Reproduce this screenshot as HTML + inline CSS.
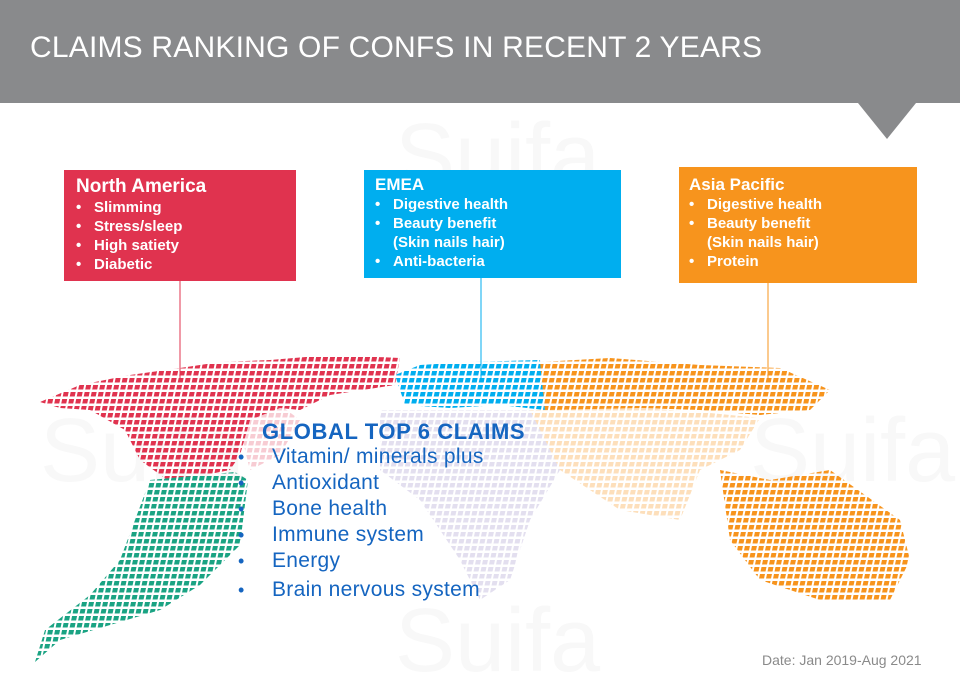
<!DOCTYPE html>
<html><head><meta charset="utf-8"><style>
body{margin:0;width:960px;height:678px;overflow:hidden;background:#fff;font-family:"Liberation Sans",sans-serif;position:relative}
.hdr{position:absolute;left:0;top:0;width:960px;height:103px;background:#898a8c}
.title{position:absolute;left:30px;top:31px;color:#fff;font-size:30px;letter-spacing:0.2px}
.box{position:absolute;color:#fff;font-weight:bold;box-sizing:border-box}
.box h3{margin:0;font-size:19px}
.box ul{margin:0;padding:0;list-style:none;font-size:15px;line-height:19px}
.box li{padding-left:18px;position:relative}
.box li:before{content:"•";position:absolute;left:0}
.wm{position:absolute;color:#f8f8f8;font-size:90px}
.g{position:absolute;color:#1565c0;font-size:21px;left:272px;letter-spacing:0.3px}
.b{position:absolute;color:#1565c0;font-size:18px;left:238px}
</style></head><body>
<div class="wm" style="left:395px;top:105px">Suifa</div>
<div class="wm" style="left:40px;top:400px">Suifa</div>
<div class="wm" style="left:750px;top:400px">Suifa</div>
<div class="wm" style="left:395px;top:590px">Suifa</div>
<div class="hdr"></div>
<svg style="position:absolute;left:0;top:0" width="960" height="678">
<polygon points="858,103 916,103 887,139" fill="#898a8c"/>
<defs>
<pattern id="p" width="7" height="7" patternUnits="userSpaceOnUse" patternTransform="skewX(-12)"><rect width="5" height="4.5" fill="#fff"/></pattern>
<mask id="m"><rect width="960" height="678" fill="url(#p)"/></mask>
</defs>
<line x1="180" y1="281" x2="180" y2="380" stroke="#e0334f"/>
<line x1="481" y1="278" x2="481" y2="378" stroke="#00aeef"/>
<line x1="768" y1="283" x2="768" y2="378" stroke="#f7941d"/>
<g mask="url(#m)">
<polygon points="40,402 80,385 130,375 180,368 220,362 270,360 330,355 400,358 395,385 330,395 300,410 280,408 250,420 240,455 230,470 170,482 140,460 125,430 90,410 60,408" fill="#e0334f"/>
<polygon points="150,480 235,472 248,480 240,545 200,585 160,610 110,625 60,640 35,662 45,630 90,595 120,560 135,520" fill="#1aa383"/>
<polygon points="395,375 420,365 470,362 540,360 545,410 500,405 450,408 405,405" fill="#00aeef"/>
<polygon points="540,362 610,358 700,365 780,368 830,390 810,410 760,415 700,410 640,408 545,410" fill="#f7941d"/>
<polygon points="530,410 640,408 700,412 760,418 740,450 700,470 680,520 620,510 560,470" fill="#f7941d" opacity="0.3"/>
<polygon points="720,470 770,480 830,470 900,520 910,560 890,600 820,600 760,580 730,540" fill="#f7941d"/>
<polygon points="380,410 530,410 560,470 530,520 510,580 480,600 460,560 420,500 380,470" fill="#b8b0d8" opacity="0.4"/>
<polygon points="235,410 280,405 300,420 280,455 250,470" fill="#e0334f" opacity="0.25"/>
</g>
</svg>
<div class="title">CLAIMS RANKING OF CONFS IN RECENT 2 YEARS</div>
<div class="box" style="left:64px;top:170px;width:232px;height:111px;padding:6px 0 0 12px;background:#e0334f">
<h3>North America</h3><ul><li>Slimming</li><li>Stress/sleep</li><li>High satiety</li><li>Diabetic</li></ul></div>
<div class="box" style="left:364px;top:170px;width:257px;height:108px;padding:5px 0 0 11px;background:#00aeef">
<h3 style="font-size:17px">EMEA</h3><ul><li>Digestive health</li><li>Beauty benefit<br>(Skin nails hair)</li><li>Anti-bacteria</li></ul></div>
<div class="box" style="left:679px;top:167px;width:238px;height:116px;padding:8px 0 0 10px;background:#f7941d">
<h3 style="font-size:17px">Asia Pacific</h3><ul><li>Digestive health</li><li>Beauty benefit<br>(Skin nails hair)</li><li>Protein</li></ul></div>
<div class="g" style="left:262px;top:419px;font-size:22px;font-weight:bold;letter-spacing:0.6px">GLOBAL TOP 6 CLAIMS</div>
<div class="b" style="top:447px">•</div><div class="g" style="top:445px">Vitamin/ minerals plus</div>
<div class="b" style="top:473px">•</div><div class="g" style="top:471px">Antioxidant</div>
<div class="b" style="top:499px">•</div><div class="g" style="top:497px">Bone health</div>
<div class="b" style="top:525px">•</div><div class="g" style="top:523px">Immune system</div>
<div class="b" style="top:551px">•</div><div class="g" style="top:549px">Energy</div>
<div class="b" style="top:580px">•</div><div class="g" style="top:578px">Brain nervous system</div>
<div style="position:absolute;left:762px;top:652px;color:#8a8a8a;font-size:14px">Date: Jan 2019-Aug 2021</div>
</body></html>
